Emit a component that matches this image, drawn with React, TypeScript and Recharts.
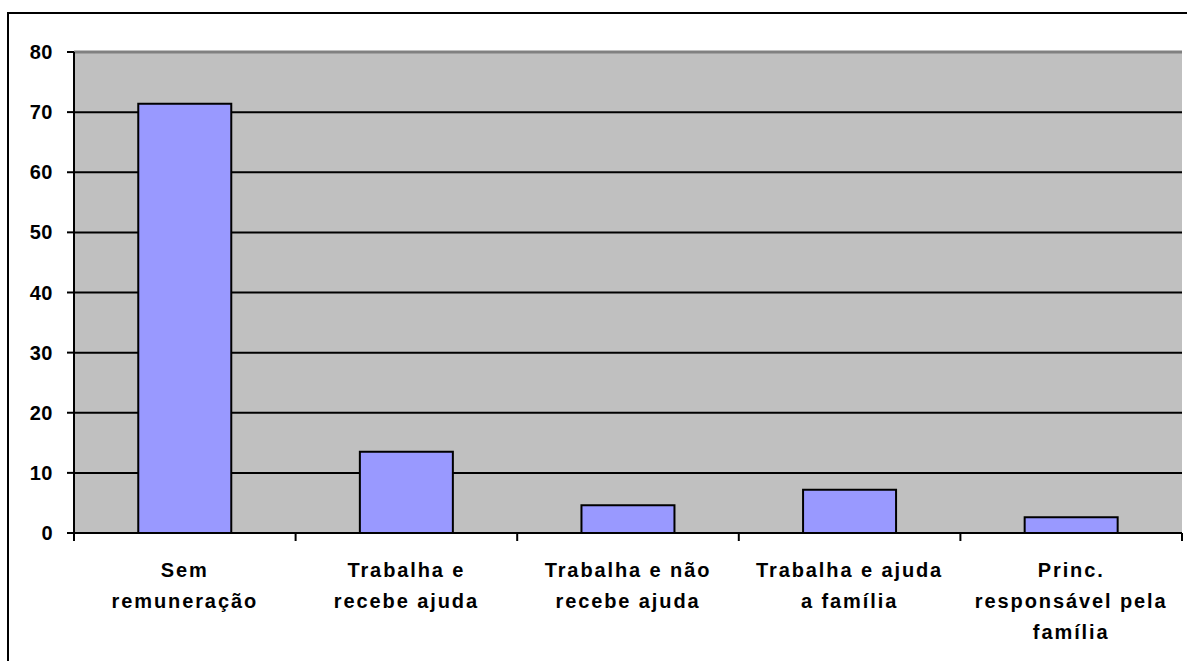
import { Bar, BarChart, CartesianGrid, XAxis, YAxis, ReferenceLine } from "recharts"

const categories = [
  "Sem remuneração",
  "Trabalha e recebe ajuda",
  "Trabalha e não recebe ajuda",
  "Trabalha e ajuda a família",
  "Princ. responsável pela família",
]

const tickLines = [
  ["Sem", "remuneração"],
  ["Trabalha e", "recebe ajuda"],
  ["Trabalha e não", "recebe ajuda"],
  ["Trabalha e ajuda", "a família"],
  ["Princ.", "responsável pela", "família"],
]

const values = [71.4, 13.5, 4.6, 7.2, 2.6]

const yTicks = [0, 10, 20, 30, 40, 50, 60, 70, 80]

const data = categories.map((name, i) => ({ name, value: values[i] }))

const W = 1187
const H = 661
const M = { top: 52, right: 5, left: 0, bottom: 0 }
const X_H = 128
const Y_W = 74
const halfBand = (W - M.left - M.right - Y_W) / categories.length / 2

function CategoryTick(props: any) {
  const { x, y, payload, index } = props
  const lines = tickLines[index] ?? [payload.value]
  return (
    <g>
      <line x1={x - halfBand} x2={x - halfBand} y1={y - 8} y2={y} stroke="#000" strokeWidth={2} />
      {index === categories.length - 1 && (
        <line x1={x + halfBand} x2={x + halfBand} y1={y - 8} y2={y} stroke="#000" strokeWidth={2} />
      )}
      <text
        x={x}
        y={y + 36}
        textAnchor="middle"
        fontFamily="'Liberation Sans', Arial, sans-serif"
        fontWeight="bold"
        fontSize={20}
        letterSpacing={1.9}
        fill="#000"
      >
        {lines.map((l: string, k: number) => (
          <tspan key={k} x={x} dy={k === 0 ? 0 : 31}>
            {l}
          </tspan>
        ))}
      </text>
    </g>
  )
}

export default function App() {
  return (
    <div style={{ position: "absolute", left: 0, top: 0, width: W, height: H, overflow: "hidden", background: "#fff" }}>
      <div
        style={{
          position: "absolute",
          left: 7,
          top: 12,
          width: W + 50,
          height: H + 50,
          border: "2px solid #000",
        }}
      />
      <div style={{ position: "absolute", left: 0, top: 0 }}>
        <BarChart width={W} height={H} data={data} margin={M} barCategoryGap="29%">
          <CartesianGrid vertical={false} fill="#C0C0C0" fillOpacity={1} stroke="#000" strokeWidth={2} />
          <ReferenceLine y={80} stroke="#808080" strokeWidth={3} />
          <XAxis
            dataKey="name"
            interval={0}
            tickLine={false}
            axisLine={{ stroke: "#000", strokeWidth: 2 }}
            tick={<CategoryTick />}
            height={X_H}
          />
          <YAxis
            width={Y_W}
            domain={[0, 80]}
            ticks={yTicks}
            interval={0}
            axisLine={{ stroke: "#000", strokeWidth: 2 }}
            tickLine={{ stroke: "#000", strokeWidth: 2 }}
            tickSize={7}
            tickMargin={14}
            tick={{ fill: "#000", fontSize: 20, fontWeight: "bold", fontFamily: "'Liberation Sans', Arial, sans-serif", letterSpacing: 0.5 }}
          />
          <YAxis
            yAxisId="r"
            orientation="right"
            width={0}
            domain={[0, 80]}
            tick={false}
            tickLine={false}
            axisLine={{ stroke: "#808080", strokeWidth: 3 }}
          />
          <Bar dataKey="value" fill="#9999FF" stroke="#000" strokeWidth={2} isAnimationActive={false} />
        </BarChart>
      </div>
    </div>
  )
}
